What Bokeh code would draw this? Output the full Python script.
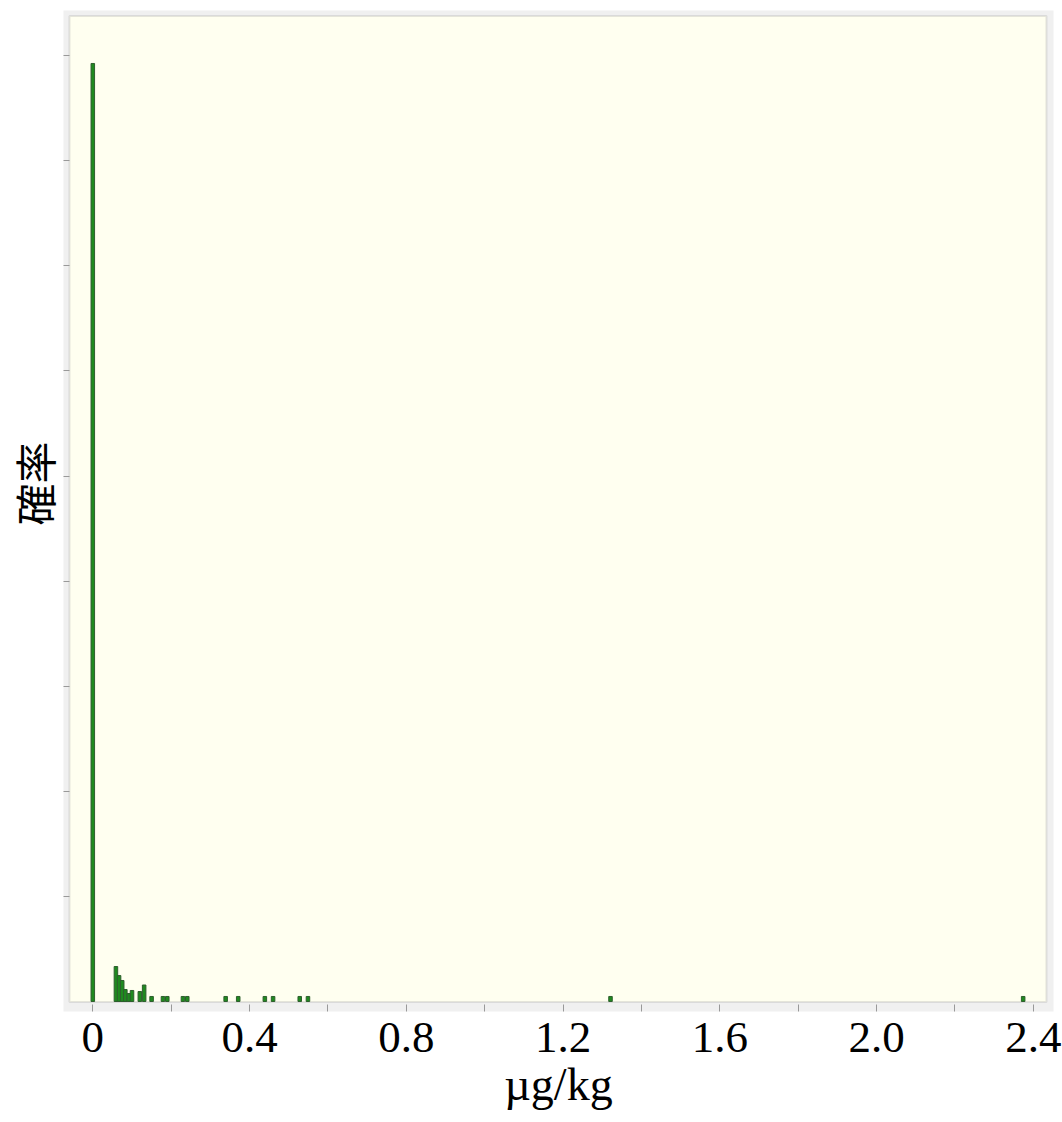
from bokeh.plotting import figure
from bokeh.models import BoxAnnotation, FixedTicker, Range1d, Title
from bokeh.embed import file_html
from bokeh.resources import INLINE

# ---- data ----
conc = [0.0, 0.059, 0.067, 0.075, 0.083, 0.092, 0.100, 0.120, 0.131, 0.150,
        0.179, 0.190, 0.230, 0.241, 0.339, 0.371, 0.439, 0.460, 0.528, 0.549,
        1.321, 2.374]
prob = [0.8925, 0.0333, 0.0247, 0.0200, 0.0114, 0.0076, 0.0105, 0.0095, 0.0157, 0.0048,
        0.0048, 0.0048, 0.0048, 0.0048, 0.0048, 0.0048, 0.0048, 0.0048, 0.0048, 0.0048,
        0.0048, 0.0048]
x_ticks = [0.0, 0.4, 0.8, 1.2, 1.6, 2.0, 2.4]
x_tick_labels = ["0", "0.4", "0.8", "1.2", "1.6", "2.0", "2.4"]
x_minor_ticks = [0.2, 0.6, 1.0, 1.4, 1.8, 2.2]
y_ticks = [0.1, 0.2, 0.3, 0.4, 0.5, 0.6, 0.7, 0.8, 0.9]
x_label = "µg/kg"
y_label = "確率"

p = figure(width=1062, height=1122, output_backend="svg", toolbar_location=None,
           x_range=Range1d(-0.0748, 2.4514), y_range=Range1d(-0.0095, 0.9429),
           min_border_left=63, min_border_right=9, min_border_top=10, min_border_bottom=111,
           background_fill_color="#f0f0f0", border_fill_color="white")
p.outline_line_color = None
p.xgrid.grid_line_color = None
p.ygrid.grid_line_color = None

p.add_layout(BoxAnnotation(left=-0.0595, right=2.4334, bottom=-0.0005, top=0.9377,
                           fill_color="#fffff0", fill_alpha=1.0,
                           line_color="#a8a8a8", line_width=2, level="underlay"))

p.vbar(x=conc, top=prob, bottom=0, width=0.009,
       fill_color="#1f8a1f", line_color="#2e5e2e", line_width=1)

serif = "Liberation Serif"
xa = p.xaxis[0]
xa.ticker = FixedTicker(ticks=x_ticks, minor_ticks=x_minor_ticks)
xa.major_label_overrides = {t: s for t, s in zip(x_ticks, x_tick_labels)}
xa.axis_line_color = None
xa.major_tick_in = 7
xa.major_tick_out = 0
xa.minor_tick_in = 7
xa.minor_tick_out = 0
xa.major_tick_line_color = "#999999"
xa.minor_tick_line_color = "#999999"
xa.major_label_text_font = serif
xa.major_label_text_font_size = "45px"
xa.major_label_text_color = "black"
xa.major_label_standoff = 11
xa.axis_label = x_label
xa.axis_label_text_font = serif
xa.axis_label_text_font_size = "46px"
xa.axis_label_text_font_style = "normal"
xa.axis_label_text_color = "black"
xa.axis_label_standoff = 4

ya = p.yaxis[0]
ya.ticker = FixedTicker(ticks=[], minor_ticks=y_ticks)
ya.axis_line_color = None
ya.major_tick_line_color = None
ya.minor_tick_in = 6
ya.minor_tick_out = 0
ya.minor_tick_line_color = "#999999"
ya.major_label_standoff = 0

p.add_layout(Title(text=y_label, align="left", offset=486, standoff=0,
                   text_font="Noto Sans CJK JP", text_font_size="42px",
                   text_font_style="normal", text_color="black"), "left")

open("out.html", "w").write(file_html(p, INLINE))
